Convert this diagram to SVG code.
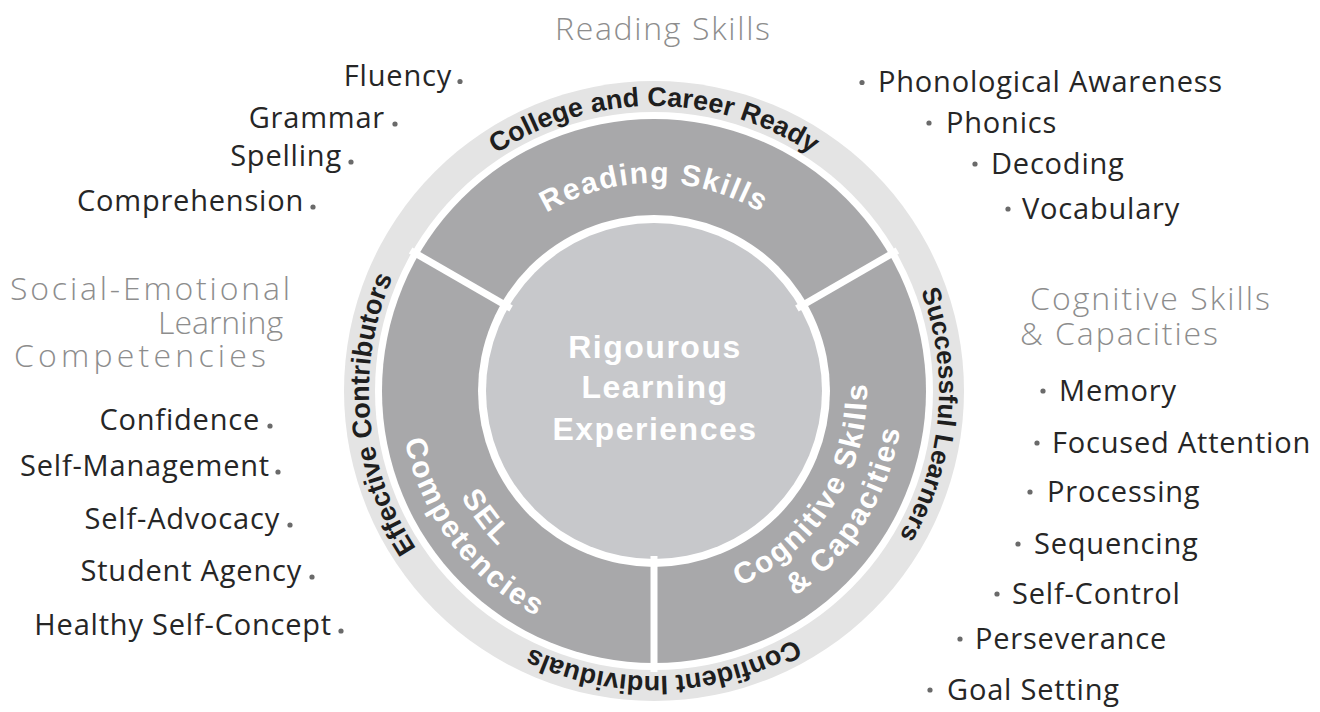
<svg xmlns="http://www.w3.org/2000/svg" width="1320" height="712" viewBox="0 0 1320 712">
<style>
.ring{font-family:"Liberation Sans",Arial,sans-serif;font-weight:bold;font-size:27px;fill:#1e1e1e}
.seg{font-family:"Liberation Sans",Arial,sans-serif;font-weight:bold;font-size:30px;fill:#ffffff;letter-spacing:2px}
.core{font-family:"Liberation Sans",Arial,sans-serif;font-weight:bold;font-size:32px;fill:#ffffff;letter-spacing:1.5px}
.item{font-family:"Open Sans","Noto Sans",sans-serif;font-size:29px;fill:#262626;letter-spacing:0.8px}
.head{font-family:"Open Sans","Noto Sans",sans-serif;font-weight:300;font-size:32px;fill:#8d8d8d}
.dot{fill:#6a6a6a}
.div{stroke:#ffffff;stroke-width:7}
</style>
<defs>
<path id="pOuter" d="M369,391 A285,285 0 0 1 939,391"/>
<path id="pRead" d="M446,391 A208,208 0 0 1 862,391"/>
<path id="pB220" d="M434,391 A220,220 0 0 0 874,391"/>
<path id="pB254" d="M400,391 A254,254 0 0 0 908,391"/>
<path id="pB213" d="M441,391 A213,213 0 0 0 867,391"/>
<path id="pB249" d="M405,391 A249,249 0 0 0 903,391"/>
</defs>
<rect width="1320" height="712" fill="#ffffff"/>

<g id="wheel">
<circle cx="654" cy="391" r="310" fill="#e4e4e4"/>
<circle cx="654" cy="391" r="279" fill="#ffffff"/>
<circle cx="654" cy="391" r="272" fill="#a8a8aa"/>
<circle cx="654" cy="391" r="176" fill="#ffffff"/>
<circle cx="654" cy="391" r="168" fill="#c7c8cb"/>
</g>

<g id="connectors">
<line class="div" x1="654" y1="556" x2="654" y2="672"/>
<line class="div" x1="796.9" y1="308.5" x2="897.4" y2="250.5"/>
<line class="div" x1="511.1" y1="308.5" x2="410.6" y2="250.5"/>
</g>

<g id="core">
<text class="core" text-anchor="middle" x="655" y="358">Rigourous</text>
<text class="core" text-anchor="middle" x="655" y="398">Learning</text>
<text class="core" text-anchor="middle" x="655" y="440">Experiences</text>
</g>

<g id="seg-reading">
<text class="seg" style="letter-spacing:1.5px"><textPath href="#pRead" startOffset="50%" text-anchor="middle">Reading Skills</textPath></text>
</g>
<g id="seg-sel">
<text class="seg" transform="rotate(53 654 391)"><textPath href="#pB220" startOffset="50%" text-anchor="middle">SEL</textPath></text>
<text class="seg" transform="rotate(53 654 391)"><textPath href="#pB254" startOffset="50%" text-anchor="middle">Competencies</textPath></text>
</g>
<g id="seg-cognitive">
<text class="seg" transform="rotate(-58 654 391)"><textPath href="#pB213" startOffset="50%" text-anchor="middle">Cognitive Skills</textPath></text>
<text class="seg" transform="rotate(-58 654 391)"><textPath href="#pB249" startOffset="50%" text-anchor="middle">&amp; Capacities</textPath></text>
</g>

<g id="ring-labels">
<text class="ring"><textPath href="#pOuter" startOffset="50%" text-anchor="middle">College and Career Ready</textPath></text>
<text class="ring" style="font-size:26px" transform="rotate(95 654 391)"><textPath href="#pOuter" startOffset="50%" text-anchor="middle">Successful Learners</textPath></text>
<text class="ring" transform="rotate(178 654 391)"><textPath href="#pOuter" startOffset="50%" text-anchor="middle">Confident Individuals</textPath></text>
<text class="ring" transform="rotate(265 654 391)"><textPath href="#pOuter" startOffset="50%" text-anchor="middle">Effective Contributors</textPath></text>
</g>

<g id="reading-list">
<text class="head" x="555" y="40" textLength="215" lengthAdjust="spacing">Reading Skills</text>
<text class="item" text-anchor="end" x="452" y="86">Fluency</text><circle class="dot" cx="460" cy="81.5" r="2.6"/>
<text class="item" text-anchor="end" x="385" y="128">Grammar</text><circle class="dot" cx="395" cy="124" r="2.6"/>
<text class="item" text-anchor="end" x="342" y="166">Spelling</text><circle class="dot" cx="351" cy="162" r="2.6"/>
<text class="item" text-anchor="end" x="304" y="211">Comprehension</text><circle class="dot" cx="313" cy="207" r="2.6"/>
<circle class="dot" cx="862" cy="82.5" r="2.6"/><text class="item" x="878" y="92">Phonological Awareness</text>
<circle class="dot" cx="929" cy="123" r="2.6"/><text class="item" x="946" y="133">Phonics</text>
<circle class="dot" cx="975" cy="164" r="2.6"/><text class="item" x="991" y="174">Decoding</text>
<circle class="dot" cx="1008" cy="209" r="2.6"/><text class="item" x="1022" y="219">Vocabulary</text>
</g>

<g id="sel-list">
<text class="head" x="10" y="300" textLength="280" lengthAdjust="spacing">Social-Emotional</text>
<text class="head" x="158" y="334" textLength="125" lengthAdjust="spacing">Learning</text>
<text class="head" x="14" y="367" textLength="252" lengthAdjust="spacing">Competencies</text>
<text class="item" text-anchor="end" x="260" y="430">Confidence</text><circle class="dot" cx="270" cy="426" r="2.6"/>
<text class="item" text-anchor="end" x="270" y="476">Self-Management</text><circle class="dot" cx="278" cy="472" r="2.6"/>
<text class="item" text-anchor="end" x="280" y="529">Self-Advocacy</text><circle class="dot" cx="290" cy="525" r="2.6"/>
<text class="item" text-anchor="end" x="302" y="581">Student Agency</text><circle class="dot" cx="312" cy="577" r="2.6"/>
<text class="item" text-anchor="end" x="332" y="635">Healthy Self-Concept</text><circle class="dot" cx="341" cy="631" r="2.6"/>
</g>

<g id="cognitive-list">
<text class="head" x="1030" y="310" textLength="240" lengthAdjust="spacing">Cognitive Skills</text>
<text class="head" x="1020" y="345" textLength="198" lengthAdjust="spacing">&amp; Capacities</text>
<circle class="dot" cx="1043" cy="391" r="2.6"/><text class="item" x="1059" y="401">Memory</text>
<circle class="dot" cx="1037" cy="443" r="2.6"/><text class="item" x="1052" y="453">Focused Attention</text>
<circle class="dot" cx="1030" cy="492" r="2.6"/><text class="item" x="1047" y="502">Processing</text>
<circle class="dot" cx="1018" cy="544" r="2.6"/><text class="item" x="1034" y="554">Sequencing</text>
<circle class="dot" cx="997" cy="594" r="2.6"/><text class="item" x="1012" y="604">Self-Control</text>
<circle class="dot" cx="960" cy="639" r="2.6"/><text class="item" x="975" y="649">Perseverance</text>
<circle class="dot" cx="930" cy="690" r="2.6"/><text class="item" x="947" y="700">Goal Setting</text>
</g>
</svg>
